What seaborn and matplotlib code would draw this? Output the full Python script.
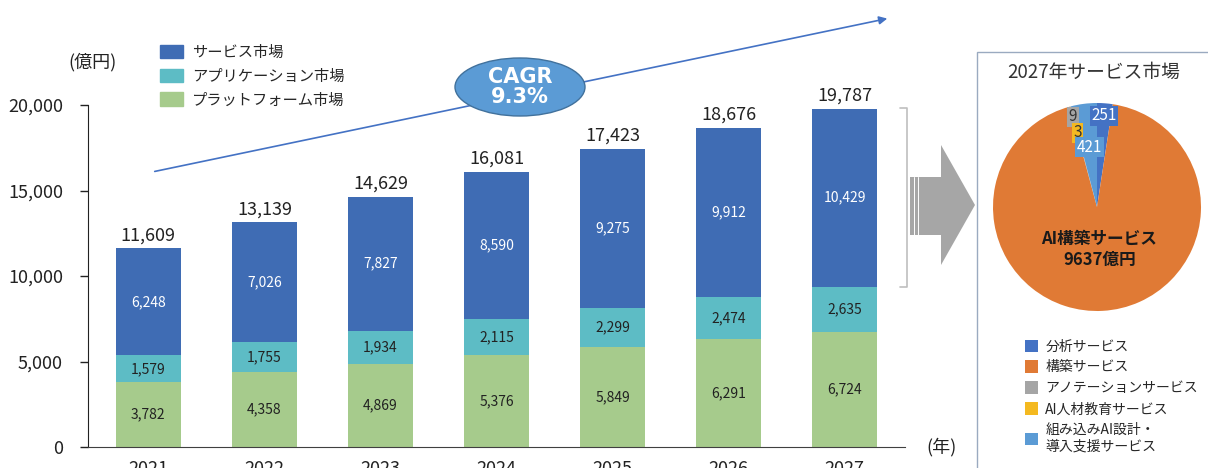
import numpy as np
import pandas as pd
import seaborn as sns
import matplotlib.pyplot as plt
from matplotlib.patches import Ellipse, FancyArrowPatch, Polygon, Rectangle
from matplotlib.lines import Line2D

# データ
years = ['2021', '2022', '2023', '2024', '2025', '2026', '2027']
platform = [3782, 4358, 4869, 5376, 5849, 6291, 6724]
application = [1579, 1755, 1934, 2115, 2299, 2474, 2635]
service = [6248, 7026, 7827, 8590, 9275, 9912, 10429]
totals = [11609, 13139, 14629, 16081, 17423, 18676, 19787]
series_names = ['サービス市場', 'アプリケーション市場', 'プラットフォーム市場']

pie_labels = ['分析サービス', '構築サービス', 'アノテーションサービス',
              'AI人材教育サービス', '組み込みAI設計・\n導入支援サービス']
pie_values = [251, 9637, 9, 3, 421]

cagr_text = 'CAGR\n9.3%'

sns.set_style('white')
plt.rcParams['font.family'] = ['Noto Sans CJK JP', 'DejaVu Sans']

W, H = 1208, 468
fig = plt.figure(figsize=(W / 100, H / 100), dpi=100)


def fx(x):
    return x / W


def fy(y):
    return 1 - y / H


c_service = '#3F6CB4'
c_app = '#5DBCC5'
c_plat = '#A6CB8C'

# 棒グラフ
ax = fig.add_axes([fx(88), fy(447), fx(905) - fx(88), fy(105) - fy(447)])
df = pd.DataFrame({'year': years, 'platform': platform,
                   'application': application, 'service': service})
bot_app = np.array(platform)
bot_srv = bot_app + np.array(application)

sns.barplot(data=df, x='year', y='platform', color=c_plat, saturation=1,
            width=0.56, linewidth=0, ax=ax)
sns.barplot(data=df, x='year', y='application', color=c_app, saturation=1,
            width=0.56, linewidth=0, bottom=bot_app, ax=ax)
sns.barplot(data=df, x='year', y='service', color=c_service, saturation=1,
            width=0.56, linewidth=0, bottom=bot_srv, ax=ax)

for cont, col in zip(ax.containers, ['#222222', '#222222', 'white']):
    ax.bar_label(cont, labels=[f'{v.get_height():,.0f}' for v in cont],
                 label_type='center', fontsize=10, color=col)
ax.bar_label(ax.containers[-1], labels=[f'{t:,}' for t in totals],
             padding=3, fontsize=13, color='#222222', clip_on=False)

ax.set_ylim(0, 20000)
ax.set_xlim(-0.52, 6.52)
ax.set_yticks([0, 5000, 10000, 15000, 20000])
ax.set_yticklabels([f'{v:,}' for v in [0, 5000, 10000, 15000, 20000]])
ax.set_xlabel('')
ax.set_ylabel('')
for s in ['top', 'right']:
    ax.spines[s].set_visible(False)
ax.spines['left'].set_color('#222222')
ax.spines['bottom'].set_color('#404040')
ax.tick_params(axis='y', left=True, length=6, width=1, color='#222222',
               labelsize=13, labelcolor='#222222', pad=12)
ax.tick_params(axis='x', bottom=False, labelsize=13, labelcolor='#222222', pad=6)

fig.text(fx(92), fy(62), '(億円)', fontsize=13, color='#222222',
         ha='center', va='center')
fig.text(fx(942), fy(447), '(年)', fontsize=13, color='#222222',
         ha='center', va='center')

handles = [Rectangle((0, 0), 1, 1, color=c) for c in [c_service, c_app, c_plat]]
fig.legend(handles, series_names, loc='upper left',
           bbox_to_anchor=(fx(146), fy(30)), frameon=False, fontsize=11,
           handlelength=1.5, handleheight=1.0, labelspacing=0.45,
           handletextpad=0.6)

# CAGR 矢印と楕円
fig.add_artist(FancyArrowPatch((fx(152), fy(172)), (fx(890), fy(18)),
                               transform=fig.transFigure, arrowstyle='-|>',
                               mutation_scale=12, color='#4472C4', lw=1.2))
fig.add_artist(Ellipse((fx(520), fy(87)), fx(130), 58 / H,
                       transform=fig.transFigure, facecolor='#5B9BD5',
                       edgecolor='#41719C', lw=1))
fig.text(fx(520), fy(87), cagr_text, ha='center', va='center', color='white',
         fontsize=15, fontweight='bold', linespacing=1.0, family='DejaVu Sans')

# ブラケットとグレー矢印
fig.add_artist(Line2D([fx(900), fx(907), fx(907), fx(900)],
                      [fy(108), fy(108), fy(287), fy(287)],
                      transform=fig.transFigure, color='#BFBFBF', lw=1.2))
fig.add_artist(Polygon([(fx(910), fy(177)), (fx(941), fy(177)),
                        (fx(941), fy(145)), (fx(975), fy(205)),
                        (fx(941), fy(265)), (fx(941), fy(235)),
                        (fx(910), fy(235))], closed=True,
                       transform=fig.transFigure, facecolor='#A6A6A6',
                       edgecolor='none'))
for xl in [914, 918]:
    fig.add_artist(Line2D([fx(xl), fx(xl)], [fy(177), fy(235)],
                          transform=fig.transFigure, color='white', lw=0.7))

# 円グラフ
fig.add_artist(Rectangle((fx(977), fy(472)), fx(1212) - fx(977),
                         fy(52) - fy(472), transform=fig.transFigure,
                         fill=False, edgecolor='#9AAAC0', lw=1))
fig.text(fx(1094), fy(72), '2027年サービス市場', ha='center', va='center',
         fontsize=13.5, color='#333333')

pie_colors = ['#4472C4', '#E07A35', '#A5A5A5', '#F4B920', '#5B9BD5']
ax2 = fig.add_axes([fx(993), fy(311), fx(208), 208 / H])
wedges, _ = ax2.pie(pie_values, colors=pie_colors, startangle=90,
                    counterclock=False, wedgeprops=dict(linewidth=0))
ax2.set_xlim(-1, 1)
ax2.set_ylim(-1, 1)

dists = [0.88, 0.41, 0.9, 0.74, 0.58]
for w, v, d, c in zip(wedges, pie_values, dists, pie_colors):
    ang = np.deg2rad((w.theta1 + w.theta2) / 2)
    x, y = d * np.cos(ang), d * np.sin(ang)
    if v == max(pie_values):
        ax2.text(x, y, f'AI構築サービス\n{v}億円', ha='center', va='center',
                 fontsize=12, fontweight='bold', color='#1a1a1a',
                 linespacing=1.25)
    else:
        ax2.text(x, y, f'{v}', ha='center', va='center', fontsize=11,
                 color='white' if v > 100 else '#333333',
                 bbox=dict(boxstyle='square,pad=0.1', facecolor=c,
                           edgecolor='none'))

fig.legend(wedges, pie_labels, loc='upper left',
           bbox_to_anchor=(fx(1012), fy(327)), frameon=False, fontsize=10,
           handlelength=1.0, handleheight=1.0, labelspacing=0.5,
           handletextpad=0.5)

fig.savefig('out.png', dpi=100)
